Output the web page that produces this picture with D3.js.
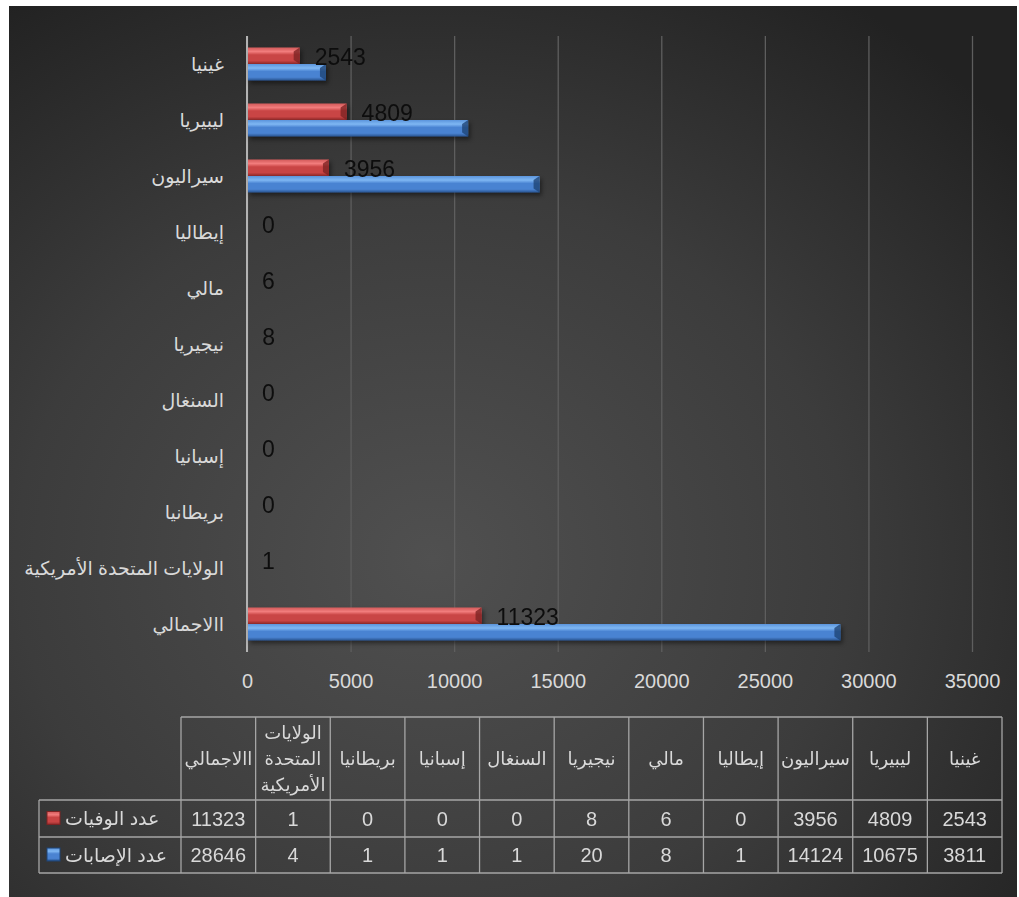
<!DOCTYPE html>
<html>
<head>
<meta charset="utf-8">
<script src="https://cdn.jsdelivr.net/npm/d3@7"></script>
<style>
  body { margin: 0; background: #fff; }
  svg { display: block; }
  text { font-family: "Liberation Sans", "DejaVu Sans", sans-serif; }
</style>
</head>
<body>
<svg></svg>
<script>
var screen = {width:1019, height:897}

// data
var categories = ["غينيا","ليبيريا","سيراليون","إيطاليا","مالي","نيجيريا","السنغال","إسبانيا","بريطانيا","الولايات المتحدة الأمريكية","االاجمالي"]
var deaths = [2543,4809,3956,0,6,8,0,0,0,1,11323]
var cases = [3811,10675,14124,1,8,20,1,1,1,4,28646]
var seriesNames = ["عدد الوفيات","عدد الإصابات"]
var xTicks = [0,5000,10000,15000,20000,25000,30000,35000]

var plot = {left:247, right:972, top:36, bottom:652}
var table = {left:181, right:1002, top:717, header:800, row1:837, row2:873, legendLeft:39}

var svg = d3.select("svg")
    .attr("width",screen.width)
    .attr("height",screen.height)

var defs = svg.append("defs")
var bg = defs.append("radialGradient").attr("id","bg")
    .attr("cx","0.42").attr("cy","0.62").attr("r","0.75")
bg.append("stop").attr("offset","0%").attr("stop-color","#505050")
bg.append("stop").attr("offset","55%").attr("stop-color","#3c3c3c")
bg.append("stop").attr("offset","100%").attr("stop-color","#222")

// bevelled bar fills
var makeBarGrad = function(id, light, top, mid, dark)
{
    var g = defs.append("linearGradient").attr("id",id)
        .attr("x1",0).attr("y1",0).attr("x2",0).attr("y2",1)
    g.append("stop").attr("offset","0%").attr("stop-color",top)
    g.append("stop").attr("offset","25%").attr("stop-color",light)
    g.append("stop").attr("offset","45%").attr("stop-color",mid)
    g.append("stop").attr("offset","80%").attr("stop-color",mid)
    g.append("stop").attr("offset","100%").attr("stop-color",dark)
}
makeBarGrad("redGrad","#f27c7c","#d25a5a","#c94444","#8c2a2a")
makeBarGrad("blueGrad","#7fb7f3","#5a94dc","#4a83d2","#26538f")

var shadow = defs.append("filter").attr("id","shadow")
    .attr("x","-5%").attr("y","-30%").attr("width","115%").attr("height","180%")
shadow.append("feDropShadow").attr("dx",2).attr("dy",3).attr("stdDeviation",2)
    .attr("flood-color","#000").attr("flood-opacity",0.45)

svg.append("rect")
    .attr("x",9).attr("y",6)
    .attr("width",1008).attr("height",891)
    .attr("fill","url(#bg)")

// scales
var xScale = d3.scaleLinear()
    .domain([0,35000])
    .range([plot.left,plot.right])

var yScale = d3.scaleBand()
    .domain(categories)
    .range([plot.top,plot.bottom])
    .paddingInner(0.41)
    .paddingOuter(0.205)

var subScale = d3.scaleBand()
    .domain(["deaths","cases"])
    .range([0,yScale.bandwidth()])

var colScale = d3.scaleBand()
    .domain(categories.slice().reverse())
    .range([table.left,table.right])

// gridlines + tick labels
var xAxis = d3.axisBottom(xScale)
    .tickValues(xTicks)
    .tickSize(-(plot.bottom-plot.top))
    .tickPadding(22)
    .tickFormat(d3.format("d"))

var axisG = svg.append("g")
    .attr("transform","translate(0,"+plot.bottom+")")
    .call(xAxis)
axisG.select(".domain").remove()
axisG.selectAll(".tick line").attr("stroke","#5e5e5e").attr("stroke-width",1.3)
axisG.selectAll(".tick text")
    .attr("fill","#d9d9d9")
    .style("font-size","20px")

// category axis
svg.append("line")
    .attr("x1",xScale(0)).attr("x2",xScale(0))
    .attr("y1",plot.top).attr("y2",plot.bottom)
    .attr("stroke","#b3b3b3").attr("stroke-width",2)

svg.append("g").selectAll("text")
    .data(categories)
    .enter()
    .append("text")
    .attr("x",224)
    .attr("y",function(c){return yScale(c)+yScale.bandwidth()/2})
    .attr("dy","0.35em")
    .attr("text-anchor","end")
    .attr("fill","#d9d9d9")
    .style("font-size","19px")
    .text(function(c){return c})

// bars
var rows = categories.map(function(c,i){return {cat:c, deaths:deaths[i], cases:cases[i]}})

var drawBars = function(key, fill, edge)
{
    var g = svg.append("g").attr("filter","url(#shadow)")
    var h = subScale.bandwidth()
    var bars = g.selectAll("g")
        .data(rows)
        .enter()
        .append("g")
        .attr("transform",function(d){return "translate(0,"+(yScale(d.cat)+subScale(key))+")"})
    bars.append("rect")
        .attr("x",xScale(0)+1)
        .attr("y",0)
        .attr("height",h)
        .attr("width",function(d){return Math.max(0,xScale(d[key])-xScale(0)-1)})
        .attr("fill",fill)
    // bevel at the bar end
    bars.filter(function(d){return xScale(d[key])-xScale(0) > 8})
        .append("path")
        .attr("d",function(d)
        {
            var x1 = xScale(d[key])
            return "M"+(x1-6)+",4 L"+x1+",0 L"+x1+","+h+" L"+(x1-6)+","+(h-4)+" Z"
        })
        .attr("fill",edge)
        .attr("opacity",0.8)
}
drawBars("deaths","url(#redGrad)","#7e2323")
drawBars("cases","url(#blueGrad)","#1f4577")

// data labels for deaths
svg.append("g").selectAll("text")
    .data(rows)
    .enter()
    .append("text")
    .attr("x",function(d){return xScale(d.deaths)+15})
    .attr("y",function(d){return yScale(d.cat)+subScale("deaths")+subScale.bandwidth()/2+1})
    .attr("dy","0.35em")
    .attr("fill","#0d0d0d")
    .style("font-size","23px")
    .text(function(d){return d.deaths})

// data table
var grid = svg.append("g").attr("stroke","#a6a6a6").attr("stroke-width",1.3)
grid.append("line").attr("x1",table.left).attr("x2",table.right).attr("y1",table.top).attr("y2",table.top)
;[table.header,table.row1,table.row2].forEach(function(y)
{
    grid.append("line").attr("x1",table.legendLeft).attr("x2",table.right).attr("y1",y).attr("y2",y)
})
grid.append("line").attr("x1",table.legendLeft).attr("x2",table.legendLeft).attr("y1",table.header).attr("y2",table.row2)
categories.forEach(function(c)
{
    var x = colScale(c)
    grid.append("line").attr("x1",x).attr("x2",x).attr("y1",table.top).attr("y2",table.row2)
})
grid.append("line").attr("x1",table.right).attr("x2",table.right).attr("y1",table.top).attr("y2",table.row2)

// header cells, wrapped when too wide
var headers = svg.append("g").selectAll("text")
    .data(categories)
    .enter()
    .append("text")
    .attr("x",function(c){return colScale(c)+colScale.bandwidth()/2})
    .attr("text-anchor","middle")
    .attr("fill","#d9d9d9")
    .style("font-size","18px")
    .each(function(c)
    {
        var t = d3.select(this)
        t.text(c)
        var lines = [c]
        if (this.getComputedTextLength() > colScale.bandwidth()-2) lines = c.split(" ")
        t.text(null)
        var mid = (table.top+table.header)/2
        var lh = 26
        lines.forEach(function(l,k)
        {
            t.append("tspan")
                .attr("x",colScale(c)+colScale.bandwidth()/2)
                .attr("y",mid+(k-(lines.length-1)/2)*lh)
                .attr("dy","0.35em")
                .text(l)
        })
    })

var tableRows = [deaths,cases]
tableRows.forEach(function(vals,r)
{
    var yTop = r==0 ? table.header : table.row1
    var yBot = r==0 ? table.row1 : table.row2
    svg.append("g").selectAll("text")
        .data(categories)
        .enter()
        .append("text")
        .attr("x",function(c){return colScale(c)+colScale.bandwidth()/2})
        .attr("y",(yTop+yBot)/2)
        .attr("dy","0.35em")
        .attr("text-anchor","middle")
        .attr("fill","#d9d9d9")
        .style("font-size","20px")
        .text(function(c,i){return vals[i]})

    // legend key + series name
    svg.append("rect")
        .attr("x",47).attr("y",(yTop+yBot)/2-7)
        .attr("width",13).attr("height",13)
        .attr("fill",r==0 ? "url(#redGrad)" : "url(#blueGrad)")
        .attr("stroke",r==0 ? "#7e2323" : "#1f4577")
    svg.append("text")
        .attr("x",65)
        .attr("y",(yTop+yBot)/2)
        .attr("dy","0.35em")
        .attr("fill","#d9d9d9")
        .style("font-size","19px")
        .text(seriesNames[r])
})
</script>
</body>
</html>
